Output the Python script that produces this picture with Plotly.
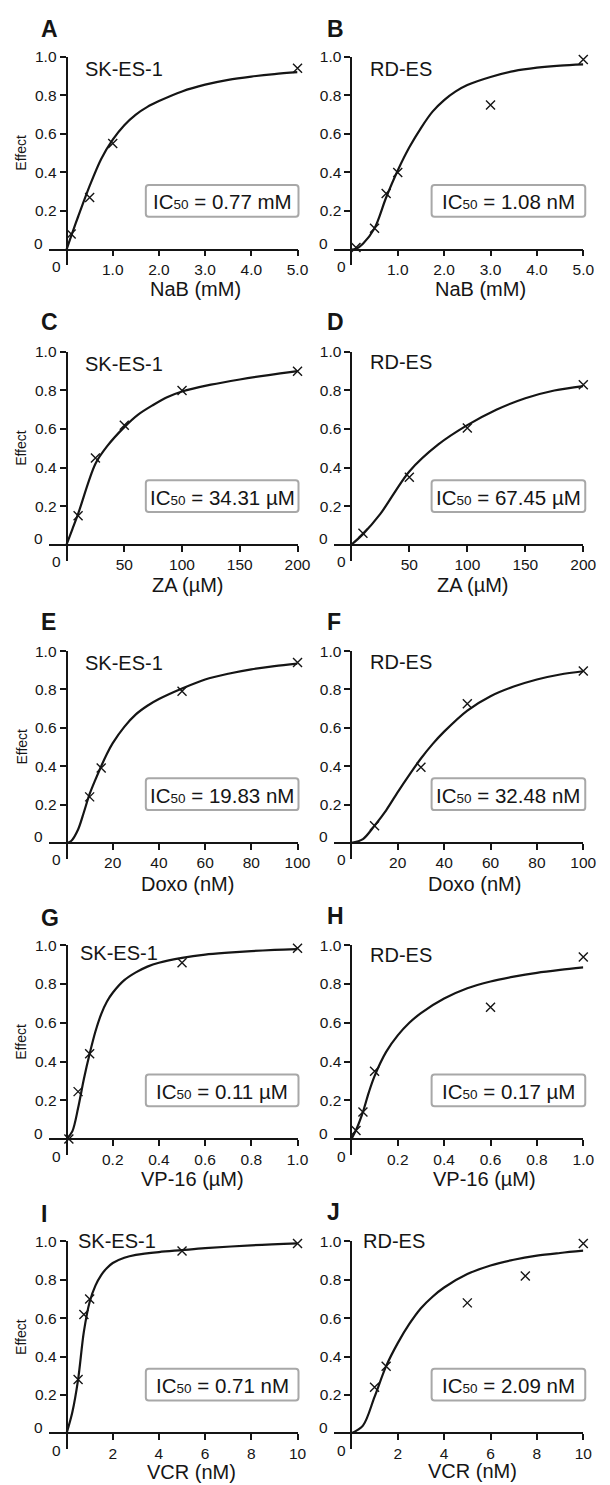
import plotly.graph_objects as go

W, H = 610, 1485

# ---------------- data ----------------
effect_ticks = [0.2, 0.4, 0.6, 0.8, 1.0]
effect_ticklabels = ["0.2", "0.4", "0.6", "0.8", "1.0"]

nab_ticks = [1.0, 2.0, 3.0, 4.0, 5.0]
nab_ticklabels = ["1.0", "2.0", "3.0", "4.0", "5.0"]
za_ticks = [50, 100, 150, 200]
za_ticklabels = ["50", "100", "150", "200"]
doxo_ticks = [20, 40, 60, 80, 100]
doxo_ticklabels = ["20", "40", "60", "80", "100"]
vp16_ticks = [0.2, 0.4, 0.6, 0.8, 1.0]
vp16_ticklabels = ["0.2", "0.4", "0.6", "0.8", "1.0"]
vcr_ticks = [2, 4, 6, 8, 10]
vcr_ticklabels = ["2", "4", "6", "8", "10"]

panel_letters = ["A", "B", "C", "D", "E", "F", "G", "H", "I", "J"]
cell_lines = ["SK-ES-1", "RD-ES"] * 5
x_titles = ["NaB (mM)", "NaB (mM)", "ZA (µM)", "ZA (µM)", "Doxo (nM)", "Doxo (nM)",
            "VP-16 (µM)", "VP-16 (µM)", "VCR (nM)", "VCR (nM)"]
ic50_values = ["0.77 mM", "1.08 nM", "34.31 µM", "67.45 µM", "19.83 nM", "32.48 nM",
               "0.11 µM", "0.17 µM", "0.71 nM", "2.09 nM"]

# A: NaB, SK-ES-1
a_dose = [0.1, 0.5, 1.0, 5.0]
a_effect = [0.08, 0.27, 0.55, 0.94]
a_fit_dose = [0, 0.1, 0.25, 0.5, 0.75, 1.0, 1.25, 1.5, 1.75, 2.0, 2.5, 3.0, 3.5, 4.0, 4.5, 5.0]
a_fit_effect = [0, 0.07, 0.17, 0.33, 0.47, 0.57, 0.645, 0.70, 0.74, 0.77, 0.82, 0.855, 0.88, 0.897, 0.91, 0.92]
# B: NaB, RD-ES
b_dose = [0.1, 0.5, 0.75, 1.0, 3.0, 5.0]
b_effect = [0.01, 0.11, 0.29, 0.40, 0.75, 0.985]
b_fit_dose = [0, 0.1, 0.25, 0.5, 0.75, 1.0, 1.25, 1.5, 1.75, 2.0, 2.25, 2.5, 3.0, 3.5, 4.0, 4.5, 5.0]
b_fit_effect = [0, 0.003, 0.03, 0.11, 0.27, 0.41, 0.53, 0.63, 0.715, 0.775, 0.82, 0.853, 0.895, 0.925, 0.943, 0.954, 0.96]
# C: ZA, SK-ES-1
c_dose = [10, 25, 50, 100, 200]
c_effect = [0.15, 0.45, 0.62, 0.80, 0.90]
c_fit_dose = [0, 5, 10, 25, 35, 50, 62, 75, 87, 100, 125, 150, 175, 200]
c_fit_effect = [0, 0.08, 0.16, 0.42, 0.51, 0.61, 0.675, 0.725, 0.765, 0.795, 0.83, 0.857, 0.88, 0.90]
# D: ZA, RD-ES
d_dose = [10, 50, 100, 200]
d_effect = [0.06, 0.35, 0.605, 0.83]
d_fit_dose = [0, 10, 25, 50, 75, 100, 125, 150, 175, 200]
d_fit_effect = [0, 0.055, 0.16, 0.38, 0.52, 0.62, 0.70, 0.76, 0.80, 0.823]
# E: Doxo, SK-ES-1
e_dose = [10, 15, 50, 100]
e_effect = [0.24, 0.39, 0.79, 0.94]
e_fit_dose = [0, 2, 5, 7.5, 10, 12.5, 15, 17.5, 20, 25, 30, 35, 40, 50, 60, 70, 80, 90, 100]
e_fit_effect = [0, 0.01, 0.07, 0.16, 0.255, 0.33, 0.40, 0.465, 0.52, 0.605, 0.67, 0.715, 0.75,
                0.805, 0.852, 0.882, 0.905, 0.922, 0.935]
# F: Doxo, RD-ES
f_dose = [10, 30, 50, 100]
f_effect = [0.09, 0.395, 0.725, 0.896]
f_fit_dose = [0, 5, 10, 15, 20, 25, 30, 35, 40, 50, 60, 70, 80, 90, 100]
f_fit_effect = [0, 0.02, 0.09, 0.17, 0.265, 0.355, 0.44, 0.515, 0.58, 0.69, 0.765, 0.815, 0.852, 0.878, 0.895]
# G: VP-16, SK-ES-1
g_dose = [0.01, 0.05, 0.1, 0.5, 1.0]
g_effect = [0.0, 0.245, 0.44, 0.91, 0.985]
g_fit_dose = [0, 0.025, 0.05, 0.075, 0.1, 0.125, 0.15, 0.175, 0.2, 0.25, 0.3, 0.35, 0.4, 0.5,
              0.6, 0.7, 0.8, 0.9, 1.0]
g_fit_effect = [0, 0.04, 0.16, 0.31, 0.44, 0.555, 0.645, 0.71, 0.755, 0.82, 0.86, 0.89, 0.91, 0.935,
                0.952, 0.962, 0.97, 0.976, 0.98]
# H: VP-16, RD-ES
h_dose = [0.02, 0.05, 0.1, 0.6, 1.0]
h_effect = [0.045, 0.14, 0.35, 0.68, 0.94]
h_fit_dose = [0, 0.025, 0.05, 0.075, 0.1, 0.15, 0.2, 0.25, 0.3, 0.4, 0.5, 0.6, 0.7, 0.8, 0.9, 1.0]
h_fit_effect = [0, 0.06, 0.14, 0.24, 0.325, 0.45, 0.535, 0.60, 0.65, 0.725, 0.778, 0.813, 0.838,
                0.858, 0.873, 0.886]
# I: VCR, SK-ES-1
i_dose = [0.5, 0.75, 1.0, 5.0, 10.0]
i_effect = [0.28, 0.62, 0.70, 0.95, 0.99]
i_fit_dose = [0, 0.25, 0.5, 0.75, 1.0, 1.25, 1.5, 1.75, 2, 2.5, 3, 4, 5, 6, 8, 10]
i_fit_effect = [0, 0.11, 0.28, 0.53, 0.685, 0.77, 0.825, 0.862, 0.888, 0.915, 0.93, 0.945, 0.955,
                0.965, 0.98, 0.99]
# J: VCR, RD-ES
j_dose = [1.0, 1.5, 5.0, 7.5, 10.0]
j_effect = [0.24, 0.35, 0.68, 0.82, 0.99]
j_fit_dose = [0, 0.5, 1.0, 1.5, 2, 2.5, 3, 3.5, 4, 5, 6, 7, 8, 9, 10]
j_fit_effect = [0, 0.04, 0.19, 0.35, 0.47, 0.57, 0.652, 0.712, 0.76, 0.83, 0.875, 0.905, 0.926, 0.94, 0.952]

doses = [a_dose, b_dose, c_dose, d_dose, e_dose, f_dose, g_dose, h_dose, i_dose, j_dose]
effects = [a_effect, b_effect, c_effect, d_effect, e_effect, f_effect, g_effect, h_effect, i_effect, j_effect]
fit_doses = [a_fit_dose, b_fit_dose, c_fit_dose, d_fit_dose, e_fit_dose, f_fit_dose,
             g_fit_dose, h_fit_dose, i_fit_dose, j_fit_dose]
fit_effects = [a_fit_effect, b_fit_effect, c_fit_effect, d_fit_effect, e_fit_effect, f_fit_effect,
               g_fit_effect, h_fit_effect, i_fit_effect, j_fit_effect]
x_ticks = [nab_ticks, za_ticks, doxo_ticks, vp16_ticks, vcr_ticks]
x_ticklabels = [nab_ticklabels, za_ticklabels, doxo_ticklabels, vp16_ticklabels, vcr_ticklabels]
x_max = [5.0, 200, 100, 1.0, 10]

# ---------------- layout geometry (pixels) ----------------
col_x0 = [68, 359]
col_x1 = [304, 596]
row_y0 = [242, 539, 839, 1137, 1433]
row_y1 = [48, 345, 646, 942, 1240]
EXT_L, EXT_D = 18, 16

letter_pos = [(40, 20), (332, 20), (40, 315), (332, 315), (40, 617), (332, 617),
              (40, 915), (332, 913), (40, 1212), (332, 1210)]
cell_pos = [(85, 60), (376, 60), (85, 357), (376, 355), (85, 658), (376, 657),
            (80, 950), (376, 952), (78, 1240), (369, 1240)]
xtitle_pos = [(200, 282), (491, 282), (192, 580), (483, 580), (192, 880), (485, 880),
              (197, 1177), (495, 1177), (196, 1472), (483, 1471)]
box_x = [(149, 305), (441, 598)]

FONT = "Liberation Sans, Arial, Helvetica, sans-serif"
INK = "#151515"


def px(x):
    return x / W


def py(y):
    return 1 - y / H


fig = go.Figure()
annotations = []
shapes = []
layout = {}

for i in range(10):
    r, c = divmod(i, 2)
    x0, x1 = col_x0[c], col_x1[c]
    y0, y1 = row_y0[r], row_y1[r]
    xm = x_max[r]
    ppx = (x1 - x0) / xm
    ppy = (y0 - y1) / 1.0
    sx = "" if i == 0 else str(i + 1)
    xa, ya = "x" + sx, "y" + sx

    common = dict(showline=True, linecolor=INK, linewidth=1.8, ticks="outside", ticklen=6,
                  tickwidth=1.8, tickcolor=INK, showgrid=False, zeroline=False,
                  tickfont=dict(family=FONT, size=15.5, color=INK), fixedrange=True)
    layout["xaxis" + sx] = dict(common, domain=[px(x0 - EXT_L), px(x1)],
                                range=[-EXT_L / ppx, xm], anchor="free", position=py(y0),
                                tickvals=x_ticks[r], ticktext=x_ticklabels[r])
    layout["yaxis" + sx] = dict(common, domain=[py(y0 + EXT_D), py(y1)],
                                range=[-EXT_D / ppy, 1.0], anchor="free", position=px(x0),
                                tickvals=effect_ticks, ticktext=effect_ticklabels)

    fig.add_trace(go.Scatter(x=fit_doses[i], y=fit_effects[i], mode="lines", xaxis=xa, yaxis=ya,
                             line=dict(color=INK, width=2.2, shape="spline", smoothing=0.9),
                             showlegend=False, hoverinfo="skip"))
    fig.add_trace(go.Scatter(x=doses[i], y=effects[i], mode="markers", xaxis=xa, yaxis=ya,
                             marker=dict(symbol="x-thin", size=9, line=dict(width=1.4, color=INK)),
                             cliponaxis=False, showlegend=False))

    # zero labels
    annotations.append(dict(text="0", x=px(x0 - 10.5), y=py(y0 + 17), xref="paper", yref="paper",
                            showarrow=False, xanchor="center", yanchor="middle",
                            font=dict(family=FONT, size=15.5, color=INK)))
    annotations.append(dict(text="0", x=px(x0 - 28.5), y=py(y0 - 6), xref="paper", yref="paper",
                            showarrow=False, xanchor="center", yanchor="middle",
                            font=dict(family=FONT, size=15.5, color=INK)))
    # panel letter
    lx, ly = letter_pos[i]
    annotations.append(dict(text="<b>%s</b>" % panel_letters[i], x=px(lx), y=py(ly), xref="paper",
                            yref="paper", showarrow=False, xanchor="left", yanchor="middle",
                            font=dict(family=FONT, size=23, color=INK)))
    # cell line
    cx, cy = cell_pos[i]
    annotations.append(dict(text=cell_lines[i], x=px(cx), y=py(cy), xref="paper", yref="paper",
                            showarrow=False, xanchor="left", yanchor="middle",
                            font=dict(family=FONT, size=20, color=INK)))
    # x title
    tx, ty = xtitle_pos[i]
    annotations.append(dict(text=x_titles[i], x=px(tx), y=py(ty), xref="paper", yref="paper",
                            showarrow=False, xanchor="center", yanchor="middle",
                            font=dict(family=FONT, size=20, color=INK)))
    # Effect label
    if c == 0:
        annotations.append(dict(text="Effect", x=px(22), y=py((y0 + y1) / 2), xref="paper",
                                yref="paper", showarrow=False, textangle=-90,
                                xanchor="center", yanchor="middle",
                                font=dict(family=FONT, size=14, color=INK)))
    # IC50 box
    bx0, bx1 = box_x[c]
    by0, by1 = y0 - 65, y0 - 33
    rr = 3
    path = ("M {a},{b} L {c},{b} Q {e},{b} {e},{f} L {e},{g} Q {e},{h} {c},{h} "
            "L {a},{h} Q {i},{h} {i},{g} L {i},{f} Q {i},{b} {a},{b} Z").format(
        a=px(bx0 + rr), b=py(by0), c=px(bx1 - rr), e=px(bx1), f=py(by0 + rr),
        g=py(by1 - rr), h=py(by1), i=px(bx0))
    shapes.append(dict(type="path", path=path, xref="paper", yref="paper",
                       line=dict(color="#a8a8a8", width=2), fillcolor="white", layer="above"))
    annotations.append(dict(text="IC<span style='font-size:13.5px'>50</span> = " + ic50_values[i],
                            x=px((bx0 + bx1) / 2), y=py((by0 + by1) / 2 + 1), xref="paper",
                            yref="paper", showarrow=False, xanchor="center", yanchor="middle",
                            font=dict(family=FONT, size=20.5, color=INK)))

fig.update_layout(**layout)
fig.update_layout(width=W, height=H, margin=dict(l=0, r=0, t=0, b=0),
                  paper_bgcolor="white", plot_bgcolor="white",
                  annotations=annotations, shapes=shapes, showlegend=False)

fig.write_html("out.html",
               post_script="document.documentElement.style.margin='0';"
                           "document.body.style.margin='0';document.body.style.padding='0';")
